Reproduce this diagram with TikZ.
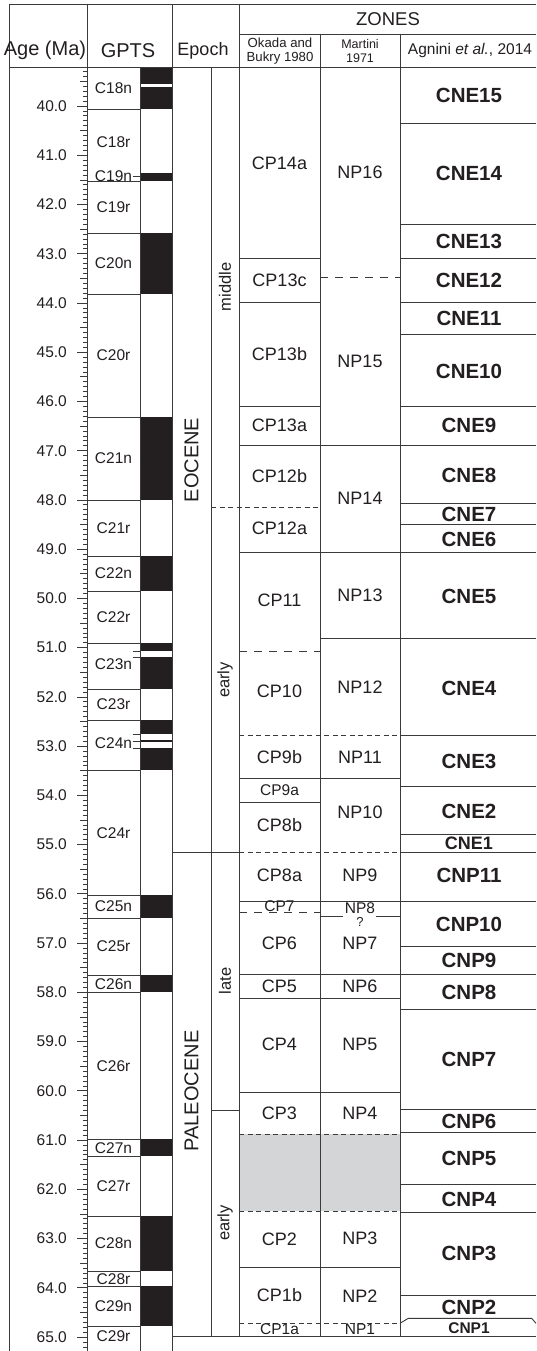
\documentclass[tikz,border=0pt]{standalone}
\usepackage{fontspec}
\setmainfont{Liberation Sans}
\definecolor{ink}{HTML}{231F20}
\definecolor{rulecol}{HTML}{3A3A3A}
\definecolor{gapfill}{HTML}{D4D5D7}
\newcommand\fsz[1]{\fontsize{#1}{#1}\selectfont}
\tikzset{
  rl/.style={draw=rulecol, line width=0.9pt},
  dl/.style={rl, dash pattern=on 8pt off 7pt},
  ds/.style={rl, dash pattern=on 5pt off 3.5pt},
  lab/.style={text=ink, inner sep=0pt, font=\fsz{15.5}},
  zn/.style={text=ink, inner sep=0pt, font=\fsz{18}},
  cne/.style={text=ink, inner sep=0pt, font=\fsz{20.5}\bfseries},
  hdr/.style={text=ink, inner sep=0pt, font=\fsz{20}},
  ep/.style={text=ink, inner sep=0pt, font=\fsz{20}, rotate=90},
  sub/.style={text=ink, inner sep=0pt, font=\fsz{16.5}, rotate=90},
}
\begin{document}
\begin{tikzpicture}[x=1pt,y=-1pt]
\useasboundingbox (0,0) rectangle (536,1351);
\fill[white] (0,0) rectangle (536,1351);

% unassigned interval between CP3/NP4 and CP2/NP3
\fill[gapfill] (239,1134) rectangle (400,1211);

% magnetic polarity (normal = black)
\foreach \a/\b in {67/84, 87/109, 173.3/181, 233/294, 417/500, 556/591,
                   643/651.3, 657.3/689, 720/734.3, 740.3/742.3, 748.3/770,
                   895/918, 975/992, 1139/1156, 1216/1271, 1286/1326}
  \fill[ink] (140,\a) rectangle (172,\b);

% frame and column rules
\draw[rl] (9,4) -- (536,4);
\draw[rl] (239,34) -- (536,34);
\draw[rl] (9,67) -- (536,67);
\draw[rl] (9,4) -- (9,1351);
\draw[rl] (87,4) -- (87,1351);
\draw[rl] (140,67) -- (140,1351);
\draw[rl] (172,4) -- (172,1351);
\draw[rl] (211,67) -- (211,1336);
\draw[rl] (239,4) -- (239,1336);
\draw[rl] (320,34) -- (320,1336);
\draw[rl] (400,34) -- (400,1336);
\draw[rl] (172,1336) -- (536,1336);

% age ticks every 0.1 Ma
\foreach \i in {393,...,653}{
  \pgfmathsetmacro\ty{106+(\i-400)*4.924}
  \pgfmathsetmacro\tl{ifthenelse(mod(\i,10)==0,10,ifthenelse(mod(\i,5)==0,7,4))}
  \draw[rulecol, line width=0.7pt] ({87-\tl},\ty) -- (87,\ty);
}
\foreach \a in {40,...,65}{
  \pgfmathsetmacro\ty{106+(\a-40)*49.24}
  \node[lab, anchor=east] (age\a) at (67,\ty) {\a.0};
}

% chron boundaries
\foreach \y in {109,181,233,294,417,500,556,591,643,689,720,770,
                895,918,975,992,1139,1156,1216,1271,1286,1326}
  \draw[rl] (87,\y) -- (140,\y);
\foreach \y in {176,651.3,657.3,734.3,741.3,748.3}
  \draw[rulecol, line width=0.7pt] (132.5,\y) -- (140,\y);

% epoch boundaries
\draw[rl] (172,852) -- (239,852);
\draw[rl] (211,1110) -- (239,1110);
\draw[ds] (211,507) -- (320,507);

% Okada and Bukry zones
\foreach \y in {258,302.5,406,802} \draw[rl] (239,\y) -- (320,\y);
\foreach \y in {445,552,901,974} \draw[rl] (239,\y) -- (536,\y);
\foreach \y in {778,998,1092,1267} \draw[rl] (239,\y) -- (400,\y);
\foreach \y in {651,912} \draw[dl] (239,\y) -- (320,\y);
\foreach \y in {735,852,1134,1211,1323} \draw[ds] (239,\y) -- (400,\y);

% Martini zones
\draw[dl] (320,277) -- (400,277);
\draw[rl] (320,638) -- (536,638);
\draw[rl] (320,916) -- (343,916);
\draw[rl] (376,916) -- (400,916);

% Agnini zones
\foreach \y in {123,224,258,302.5,334,406,503,524,735,786,834,852,
                946,1009,1109,1132,1184,1212,1295}
  \draw[rl] (400,\y) -- (536,\y);
\draw[rl] (400,1323.3) -- (408.3,1318.3) -- (531.7,1318.3) -- (536,1323.3);

% header
\node[hdr] (hage) at (45,50.5) {Age (Ma)};
\node[hdr] (hgpts) at (128,50.5) {GPTS};
\node[hdr, font=\fsz{18}] (hepoch) at (203,50.5) {Epoch};
\node[hdr, font=\fsz{18.5}] (hzones) at (388,19.5) {ZONES};
\node[text=ink, inner sep=0pt, align=center, font={\fontsize{13.2}{14}\selectfont}] (hokada) at (280,51) {Okada and\\Bukry 1980};
\node[text=ink, inner sep=0pt, align=center, font={\fontsize{12.5}{14}\selectfont}] (hmartini) at (360,51) {Martini\\1971};
\node[lab] (hagnini) at (470,50.5) {Agnini \textit{et al.}, 2014};

% chron names
\foreach \t/\y in {C18n/88, C18r/142, C19n/176, C19r/207, C20n/263, C20r/355,
                   C21n/458, C21r/528, C22n/573, C22r/617, C23n/664, C23r/704,
                   C24n/743, C24r/833, C25n/906, C25r/946, C26n/984, C26r/1066,
                   C27n/1148, C27r/1186, C28n/1243, C28r/1279, C29n/1306, C29r/1336}
  \node[lab] (g\t) at (113.5,\y) {\t};

% epochs
\node[ep] (eocene) at (191.5,460) {EOCENE};
\node[ep] (paleocene) at (191.5,1091) {PALEOCENE};
\node[sub] (emiddle) at (225,287) {middle};
\node[sub] (eearly) at (225,680) {early};
\node[sub] (plate) at (225,981) {late};
\node[sub] (pearly) at (225,1223) {early};

% Okada and Bukry 1980
\foreach \t/\y in {CP14a/163, CP13c/280, CP13b/354, CP13a/425, CP12b/476,
                   CP12a/528, CP11/600, CP10/691, CP9b/757, CP8b/825, CP8a/875,
                   CP6/943, CP5/986, CP4/1044, CP3/1113, CP2/1239, CP1b/1295}
  \node[zn] (o\t) at (279.5,\y) {\t};
\foreach \t/\y in {CP9a/790, CP7/906, CP1a/1329}
  \node[lab] (o\t) at (279.5,\y) {\t};

% Martini 1971
\foreach \t/\y in {NP16/172, NP15/361, NP14/498, NP13/595, NP12/687, NP11/757,
                   NP10/812, NP9/875, NP7/943, NP6/986, NP5/1044, NP4/1113,
                   NP3/1238, NP2/1296}
  \node[zn] (m\t) at (360,\y) {\t};
\foreach \t/\y in {NP8/908, NP1/1329}
  \node[lab] (m\t) at (360,\y) {\t};
\node[lab, font=\fsz{13}] (mq) at (360,922) {?};

% Agnini et al. 2014
\foreach \t/\y in {CNE15/95, CNE14/173, CNE13/241, CNE12/280, CNE11/318,
                   CNE10/371, CNE9/425, CNE8/475, CNE7/514, CNE6/539, CNE5/596,
                   CNE4/688, CNE3/761, CNE2/811, CNP11/875, CNP10/924, CNP9/960,
                   CNP8/992, CNP7/1059, CNP6/1121, CNP5/1158, CNP4/1199,
                   CNP3/1253, CNP2/1307}
  \node[cne] (a\t) at (469,\y) {\t};
\node[cne, font=\fsz{18}\bfseries] (aCNE1) at (469,843) {CNE1};
\node[cne, font=\fsz{15.5}\bfseries] (aCNP1) at (469,1328) {CNP1};
\end{tikzpicture}
\end{document}
